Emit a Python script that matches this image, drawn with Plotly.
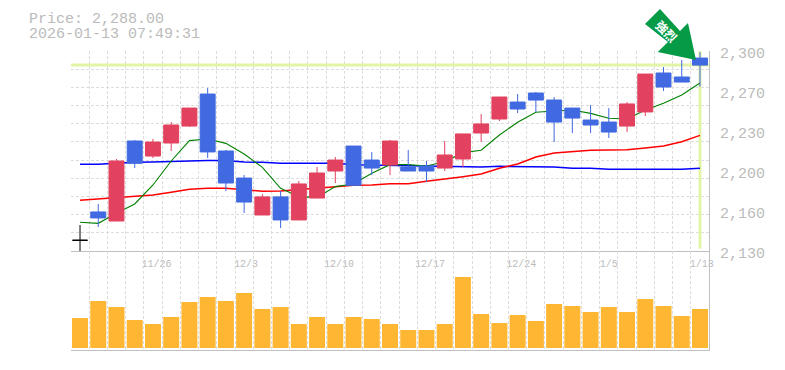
import plotly.graph_objects as go

W, H = 785, 370

indices = list(range(35))
opens = [2139.1, 2163.2, 2155.5, 2223.5, 2210.7, 2221.8, 2236.2, 2263.4, 2215.0, 2192.0, 2160.6, 2176.0,
         2156.4, 2175.0, 2198.0, 2219.2, 2207.3, 2203.1, 2201.4, 2202.2, 2200.5, 2208.2, 2230.3, 2242.2,
         2256.6, 2264.3, 2258.3, 2251.5, 2241.3, 2239.6, 2236.2, 2248.2, 2281.3, 2277.9, 2294.0]
highs = [2152.1, 2170.0, 2208.2, 2224.4, 2225.2, 2239.6, 2251.5, 2268.5, 2215.8, 2194.6, 2178.4, 2181.0,
         2189.5, 2201.4, 2209.9, 2219.2, 2214.2, 2224.4, 2215.8, 2206.5, 2223.5, 2229.5, 2246.4, 2260.9,
         2263.4, 2265.2, 2260.9, 2251.5, 2254.0, 2251.5, 2256.6, 2280.4, 2286.4, 2292.3, 2299.0]
lows = [2130.0, 2150.4, 2155.5, 2200.5, 2209.0, 2215.0, 2235.4, 2209.0, 2181.0, 2162.3, 2160.6, 2149.5,
        2156.4, 2175.0, 2187.8, 2185.8, 2194.6, 2194.6, 2198.0, 2188.6, 2198.0, 2201.4, 2222.6, 2240.5,
        2247.3, 2248.1, 2222.6, 2230.3, 2230.3, 2226.0, 2231.1, 2244.7, 2266.0, 2273.6, 2269.7]
closes = [2139.1, 2158.1, 2206.5, 2204.5, 2222.6, 2237.1, 2251.5, 2214.2, 2187.8, 2171.6, 2176.0, 2156.4,
          2187.0, 2196.3, 2207.3, 2185.8, 2200.5, 2223.5, 2198.0, 2198.0, 2211.6, 2229.5, 2238.0, 2260.9,
          2250.7, 2258.3, 2239.6, 2243.0, 2237.1, 2231.1, 2255.0, 2280.4, 2269.4, 2273.6, 2288.0]
ma_short = [2154.4, 2153.5, 2162.0, 2170.0, 2186.1, 2206.5, 2223.8, 2225.2, 2221.5, 2212.5, 2201.1, 2183.3,
            2176.2, 2175.6, 2184.7, 2187.0, 2196.0, 2203.4, 2203.4, 2202.2, 2205.9, 2213.6, 2215.6, 2228.6,
            2239.4, 2247.9, 2249.0, 2249.9, 2247.0, 2242.8, 2242.2, 2249.9, 2255.5, 2262.6, 2272.8]
ma_mid = [2173.1, 2174.2, 2175.6, 2176.2, 2177.6, 2179.9, 2182.4, 2183.3, 2183.3, 2182.1, 2180.7, 2181.0,
          2182.4, 2183.8, 2184.7, 2185.8, 2186.1, 2187.2, 2187.2, 2189.2, 2190.9, 2193.2, 2195.5, 2200.3,
          2204.0, 2209.9, 2213.3, 2214.2, 2215.6, 2215.8, 2216.1, 2217.5, 2219.2, 2222.9, 2228.3]
ma_long = [2203.7, 2203.7, 2204.5, 2205.4, 2205.6, 2206.2, 2207.0, 2207.0, 2207.0, 2205.6, 2205.4, 2204.5,
           2204.5, 2204.5, 2204.5, 2203.4, 2203.1, 2202.8, 2202.5, 2202.2, 2201.7, 2201.4, 2201.4, 2202.0,
           2202.0, 2202.0, 2201.4, 2200.3, 2200.3, 2199.4, 2199.4, 2199.4, 2199.4, 2199.4, 2200.3]
volumes = [90, 141, 123, 84, 72, 93, 138, 153, 141, 165, 117, 123, 72, 93, 72, 93, 87, 72,
           54, 54, 72, 213, 102, 75, 99, 81, 132, 126, 108, 123, 108, 147, 126, 96, 117]

date_labels = ["11/26", "12/3", "12/10", "12/17", "12/24", "1/5", "1/13"]
date_positions = [4.2, 9.1, 14.2, 19.2, 24.2, 29.0, 34.1]
price_ticks = [2300, 2266, 2232, 2198, 2164, 2130]
price_labels = ["2,300", "2,270", "2,230", "2,200", "2,160", "2,130"]
header_lines = ["Price: 2,288.00", "2026-01-13 07:49:31"]
arrow_label = "強烈"

PLOT_L, PLOT_R, MAIN_T, MAIN_B, VOL_B = 70.9, 709.1, 51, 251, 350
GRID = "#dcdcdc"
FRAME = "#c0c0c0"
TEXT = "#bbbbbb"
MONO = "Liberation Mono"
PRICE_RANGE = [2130, 2300]
X_RANGE = [-0.5, 34.5]


def px(x):
    return x / W


def py(y):
    return 1 - y / H


fig = go.Figure()

fig.add_trace(go.Scatter(x=X_RANGE, y=[closes[-1], closes[-1]], mode="lines",
                         line=dict(color="#e3f3a8", width=3), xaxis="x", yaxis="y"))
fig.add_trace(go.Scatter(x=[indices[-1], indices[-1]], y=[2132, 2300], mode="lines",
                         line=dict(color="#e3f3a8", width=3), xaxis="x", yaxis="y"))
fig.add_trace(go.Scatter(x=indices, y=ma_long, mode="lines", line=dict(color="#0000ff", width=1.5),
                         xaxis="x", yaxis="y"))
fig.add_trace(go.Scatter(x=indices, y=ma_mid, mode="lines", line=dict(color="#ff0000", width=1.5),
                         xaxis="x", yaxis="y"))
fig.add_trace(go.Scatter(x=indices, y=ma_short, mode="lines", line=dict(color="#008000", width=1.1),
                         xaxis="x", yaxis="y"))

fig.add_trace(go.Candlestick(
    x=indices[:1], open=opens[:1], high=highs[:1], low=lows[:1], close=closes[:1],
    increasing=dict(line=dict(color="#000000", width=1), fillcolor="#000000"),
    decreasing=dict(line=dict(color="#000000", width=1), fillcolor="#000000"),
    whiskerwidth=0, xaxis="x", yaxis="y3"))
fig.add_trace(go.Candlestick(
    x=indices[1:], open=opens[1:], high=highs[1:], low=lows[1:], close=closes[1:],
    increasing=dict(line=dict(color="#e2425f", width=1), fillcolor="#e2425f"),
    decreasing=dict(line=dict(color="#4169e1", width=1), fillcolor="#4169e1"),
    whiskerwidth=0, xaxis="x", yaxis="y3"))

fig.add_trace(go.Bar(x=indices, y=[v * 1000 for v in volumes], width=0.877,
                     marker=dict(color="#ffb733", line=dict(width=0)), xaxis="x2", yaxis="y2"))

minor_x = dict(showgrid=True, gridcolor=GRID, griddash="3px,2px", gridwidth=1,
               tickmode="linear", tick0=-0.5, dtick=1, ticks="")

fig.update_layout(
    width=W, height=H, margin=dict(l=0, r=0, t=0, b=0, autoexpand=False),
    paper_bgcolor="white", plot_bgcolor="white", showlegend=False,
    boxmode="overlay", boxgap=0.18, boxgroupgap=0,
    xaxis=dict(domain=[px(PLOT_L), px(PLOT_R)], range=X_RANGE, anchor="y",
               tickmode="array", tickvals=date_positions, ticktext=date_labels,
               tickfont=dict(family=MONO, size=10, color=TEXT), ticks="", showgrid=False,
               minor=minor_x, showline=True, linecolor=FRAME, linewidth=1,
               rangeslider=dict(visible=False), zeroline=False, ticklabelstandoff=3),
    xaxis2=dict(domain=[px(PLOT_L), px(PLOT_R)], range=X_RANGE, anchor="y2",
                showticklabels=False, ticks="", showgrid=False, minor=minor_x,
                showline=True, linecolor=FRAME, linewidth=1, zeroline=False),
    yaxis=dict(domain=[py(MAIN_B), py(MAIN_T)], range=PRICE_RANGE, anchor="x", side="right",
               tickmode="array", tickvals=price_ticks, ticktext=price_labels,
               tickfont=dict(family=MONO, size=15, color=TEXT), ticks="", showgrid=False,
               minor=dict(showgrid=True, gridcolor=GRID, griddash="3px,2px", gridwidth=1,
                          tickmode="linear", tick0=2130, dtick=170 / 11, ticks=""),
               showline=True, linecolor=FRAME, linewidth=1, zeroline=False,
               ticklabelstandoff=7, ticklabelshift=2),
    yaxis2=dict(domain=[py(VOL_B), py(MAIN_B)], range=[-6000, 291000], anchor="x2", side="right",
                showticklabels=False, ticks="", showgrid=False,
                showline=True, linecolor=FRAME, linewidth=1, zeroline=False),
    yaxis3=dict(overlaying="y", range=PRICE_RANGE, anchor="x", side="right", visible=False),
)

for text, top in zip(header_lines, [18.5, 34]):
    fig.add_annotation(text=text, xref="paper", yref="paper", x=px(27), y=py(top),
                       xanchor="left", yanchor="middle", showarrow=False, height=14,
                       font=dict(family=MONO, size=15, color=TEXT))

arrow_outline = [(660, 9), (680, 31), (688, 23), (696, 60), (657.7, 52), (668, 42), (645, 24)]
path = "M " + " L ".join(f"{px(a):.5f},{py(b):.5f}" for a, b in arrow_outline) + " Z"
fig.add_shape(type="path", path=path, xref="paper", yref="paper", layer="above",
              fillcolor="#059b46", line=dict(width=0))
fig.add_annotation(text=f"<b>{arrow_label}</b>", xref="paper", yref="paper", x=px(666.5), y=py(30.5),
                   showarrow=False, textangle=45, xanchor="center", yanchor="middle",
                   font=dict(family="Noto Sans CJK JP", size=12, color="white"))

fig.write_html("out.html", config={"displayModeBar": False},
               post_script="document.body.style.margin='0';")
